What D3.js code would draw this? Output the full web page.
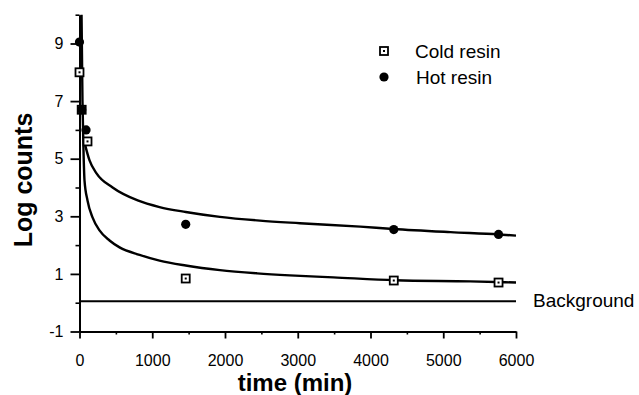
<!DOCTYPE html>
<html><head><meta charset="utf-8">
<script src="https://cdn.jsdelivr.net/npm/d3@7/dist/d3.min.js"></script>
<style>
html,body{margin:0;padding:0;background:#fff;}
svg{display:block;font-family:"Liberation Sans",Arial,Helvetica,sans-serif;}
</style></head>
<body><svg id="c" width="639" height="395"></svg>
<script>
// ---- data ----
const coldTime = [0, 30, 110, 1460, 4320, 5760];
const coldLog  = [8.0, 6.7, 5.6, 0.84, 0.77, 0.70];
const hotTime  = [0, 30, 90, 1460, 4320, 5760];
const hotLog   = [9.05, 6.7, 6.0, 2.72, 2.54, 2.37];

const coldFitTime = [28, 41, 55, 69, 110, 179, 275, 413, 551, 826, 1100, 1460, 1930, 2440, 2890, 3490, 4340, 5370, 6000];
const coldFitLog  = [10.0, 7.0, 5.28, 4.24, 3.55, 2.96, 2.51, 2.16, 1.92, 1.66, 1.46, 1.29, 1.13, 1.02, 0.95, 0.88, 0.78, 0.74, 0.70];
const hotFitTime  = [69, 138, 234, 455, 800, 1100, 1460, 1930, 2480, 3030, 3860, 4310, 5100, 5760, 6000];
const hotFitLog   = [5.56, 4.94, 4.49, 4.0, 3.55, 3.32, 3.15, 2.98, 2.85, 2.76, 2.64, 2.56, 2.45, 2.37, 2.33];

const bgTime = [0, 6000];
const bgLog  = [0.05, 0.05];

const xMajor = [0, 1000, 2000, 3000, 4000, 5000, 6000];
const xMinor = [500, 1500, 2500, 3500, 4500, 5500];
const yMajor = [-1, 1, 3, 5, 7, 9];
const yMinor = [0, 2, 4, 6, 8, 10];

const seriesNames = ["Cold resin", "Hot resin"];
const bgLabel = "Background";
const xTitle = "time (min)";
const yTitle = "Log counts";

// ---- chart ----
const svg = d3.select("#c");
const x = d3.scaleLinear().domain([0, 6000]).range([79.5, 516]);
const y = d3.scaleLinear().domain([-1, 10]).range([331.5, 14.7]);
const fmt = d => String(d);  // plain hyphen-minus as in the original

const axW = 2;
// minor ticks
svg.append("g").attr("transform", `translate(0,${y(-1)})`)
  .call(d3.axisBottom(x).tickValues(xMinor).tickSize(3).tickFormat(""))
  .call(g => g.select(".domain").remove())
  .call(g => g.selectAll("line").attr("stroke", "#000").attr("stroke-width", 1.6));
svg.append("g").attr("transform", `translate(${x(0)},0)`)
  .call(d3.axisLeft(y).tickValues(yMinor).tickSize(4).tickFormat(""))
  .call(g => g.select(".domain").remove())
  .call(g => g.selectAll("line").attr("stroke", "#000").attr("stroke-width", 1.6));

// major axes
const xa = svg.append("g").attr("transform", `translate(0,${y(-1)})`)
  .call(d3.axisBottom(x).tickValues(xMajor).tickSize(7).tickSizeOuter(0).tickPadding(16).tickFormat(fmt));
xa.select(".domain").attr("stroke", "#000").attr("stroke-width", axW);
xa.selectAll("line").attr("stroke", "#000").attr("stroke-width", 1.8);
xa.selectAll("text").attr("font-size", 16).attr("fill", "#000").attr("font-family", "Liberation Sans, Arial, sans-serif");

const ya = svg.append("g").attr("transform", `translate(${x(0)},0)`)
  .call(d3.axisLeft(y).tickValues(yMajor).tickSize(9).tickSizeOuter(0).tickPadding(7).tickFormat(fmt));
ya.select(".domain").attr("stroke", "#000").attr("stroke-width", axW);
ya.selectAll("line").attr("stroke", "#000").attr("stroke-width", 1.8);
ya.selectAll("text").attr("font-size", 16).attr("fill", "#000").attr("font-family", "Liberation Sans, Arial, sans-serif");

// lines
const line = d3.line().x(d => x(d[0])).y(d => y(d[1])).curve(d3.curveMonotoneX);
svg.append("path").datum(bgTime.map((t, i) => [t, bgLog[i]]))
  .attr("d", line).attr("fill", "none").attr("stroke", "#000").attr("stroke-width", 2.2);
svg.append("path").datum(coldFitTime.map((t, i) => [t, coldFitLog[i]]))
  .attr("d", line).attr("fill", "none").attr("stroke", "#000").attr("stroke-width", 2.4);
svg.append("path").datum(hotFitTime.map((t, i) => [t, hotFitLog[i]]))
  .attr("d", line).attr("fill", "none").attr("stroke", "#000").attr("stroke-width", 2.4);

// markers
function squareMarker(g, cx, cy) {
  g.append("rect").attr("x", cx - 4).attr("y", cy - 4).attr("width", 8).attr("height", 8)
    .attr("fill", "#fff").attr("stroke", "#000").attr("stroke-width", 1.8);
  g.append("rect").attr("x", cx - 1).attr("y", cy - 1).attr("width", 2).attr("height", 2).attr("fill", "#000");
}
function circleMarker(g, cx, cy) {
  g.append("circle").attr("cx", cx).attr("cy", cy).attr("r", 4.6).attr("fill", "#000");
}
const pts = svg.append("g");
coldTime.forEach((t, i) => squareMarker(pts, x(t), y(coldLog[i])));
hotTime.forEach((t, i) => circleMarker(pts, x(t), y(hotLog[i])));

// legend
const lg = svg.append("g");
squareMarker(lg, 384, 51);
circleMarker(lg, 384, 77);
lg.append("text").attr("x", 415).attr("y", 58).attr("font-size", 19).text(seriesNames[0]);
lg.append("text").attr("x", 416).attr("y", 84).attr("font-size", 19).text(seriesNames[1]);

// background label
svg.append("text").attr("x", 533).attr("y", 307).attr("font-size", 19).text(bgLabel);

// axis titles
svg.append("text").attr("x", 295).attr("y", 391).attr("text-anchor", "middle")
  .attr("font-size", 24).attr("font-weight", "bold").text(xTitle);
svg.append("text").attr("transform", "translate(32,180) rotate(-90)").attr("text-anchor", "middle")
  .attr("font-size", 25).attr("font-weight", "bold").text(yTitle);
</script></body></html>
